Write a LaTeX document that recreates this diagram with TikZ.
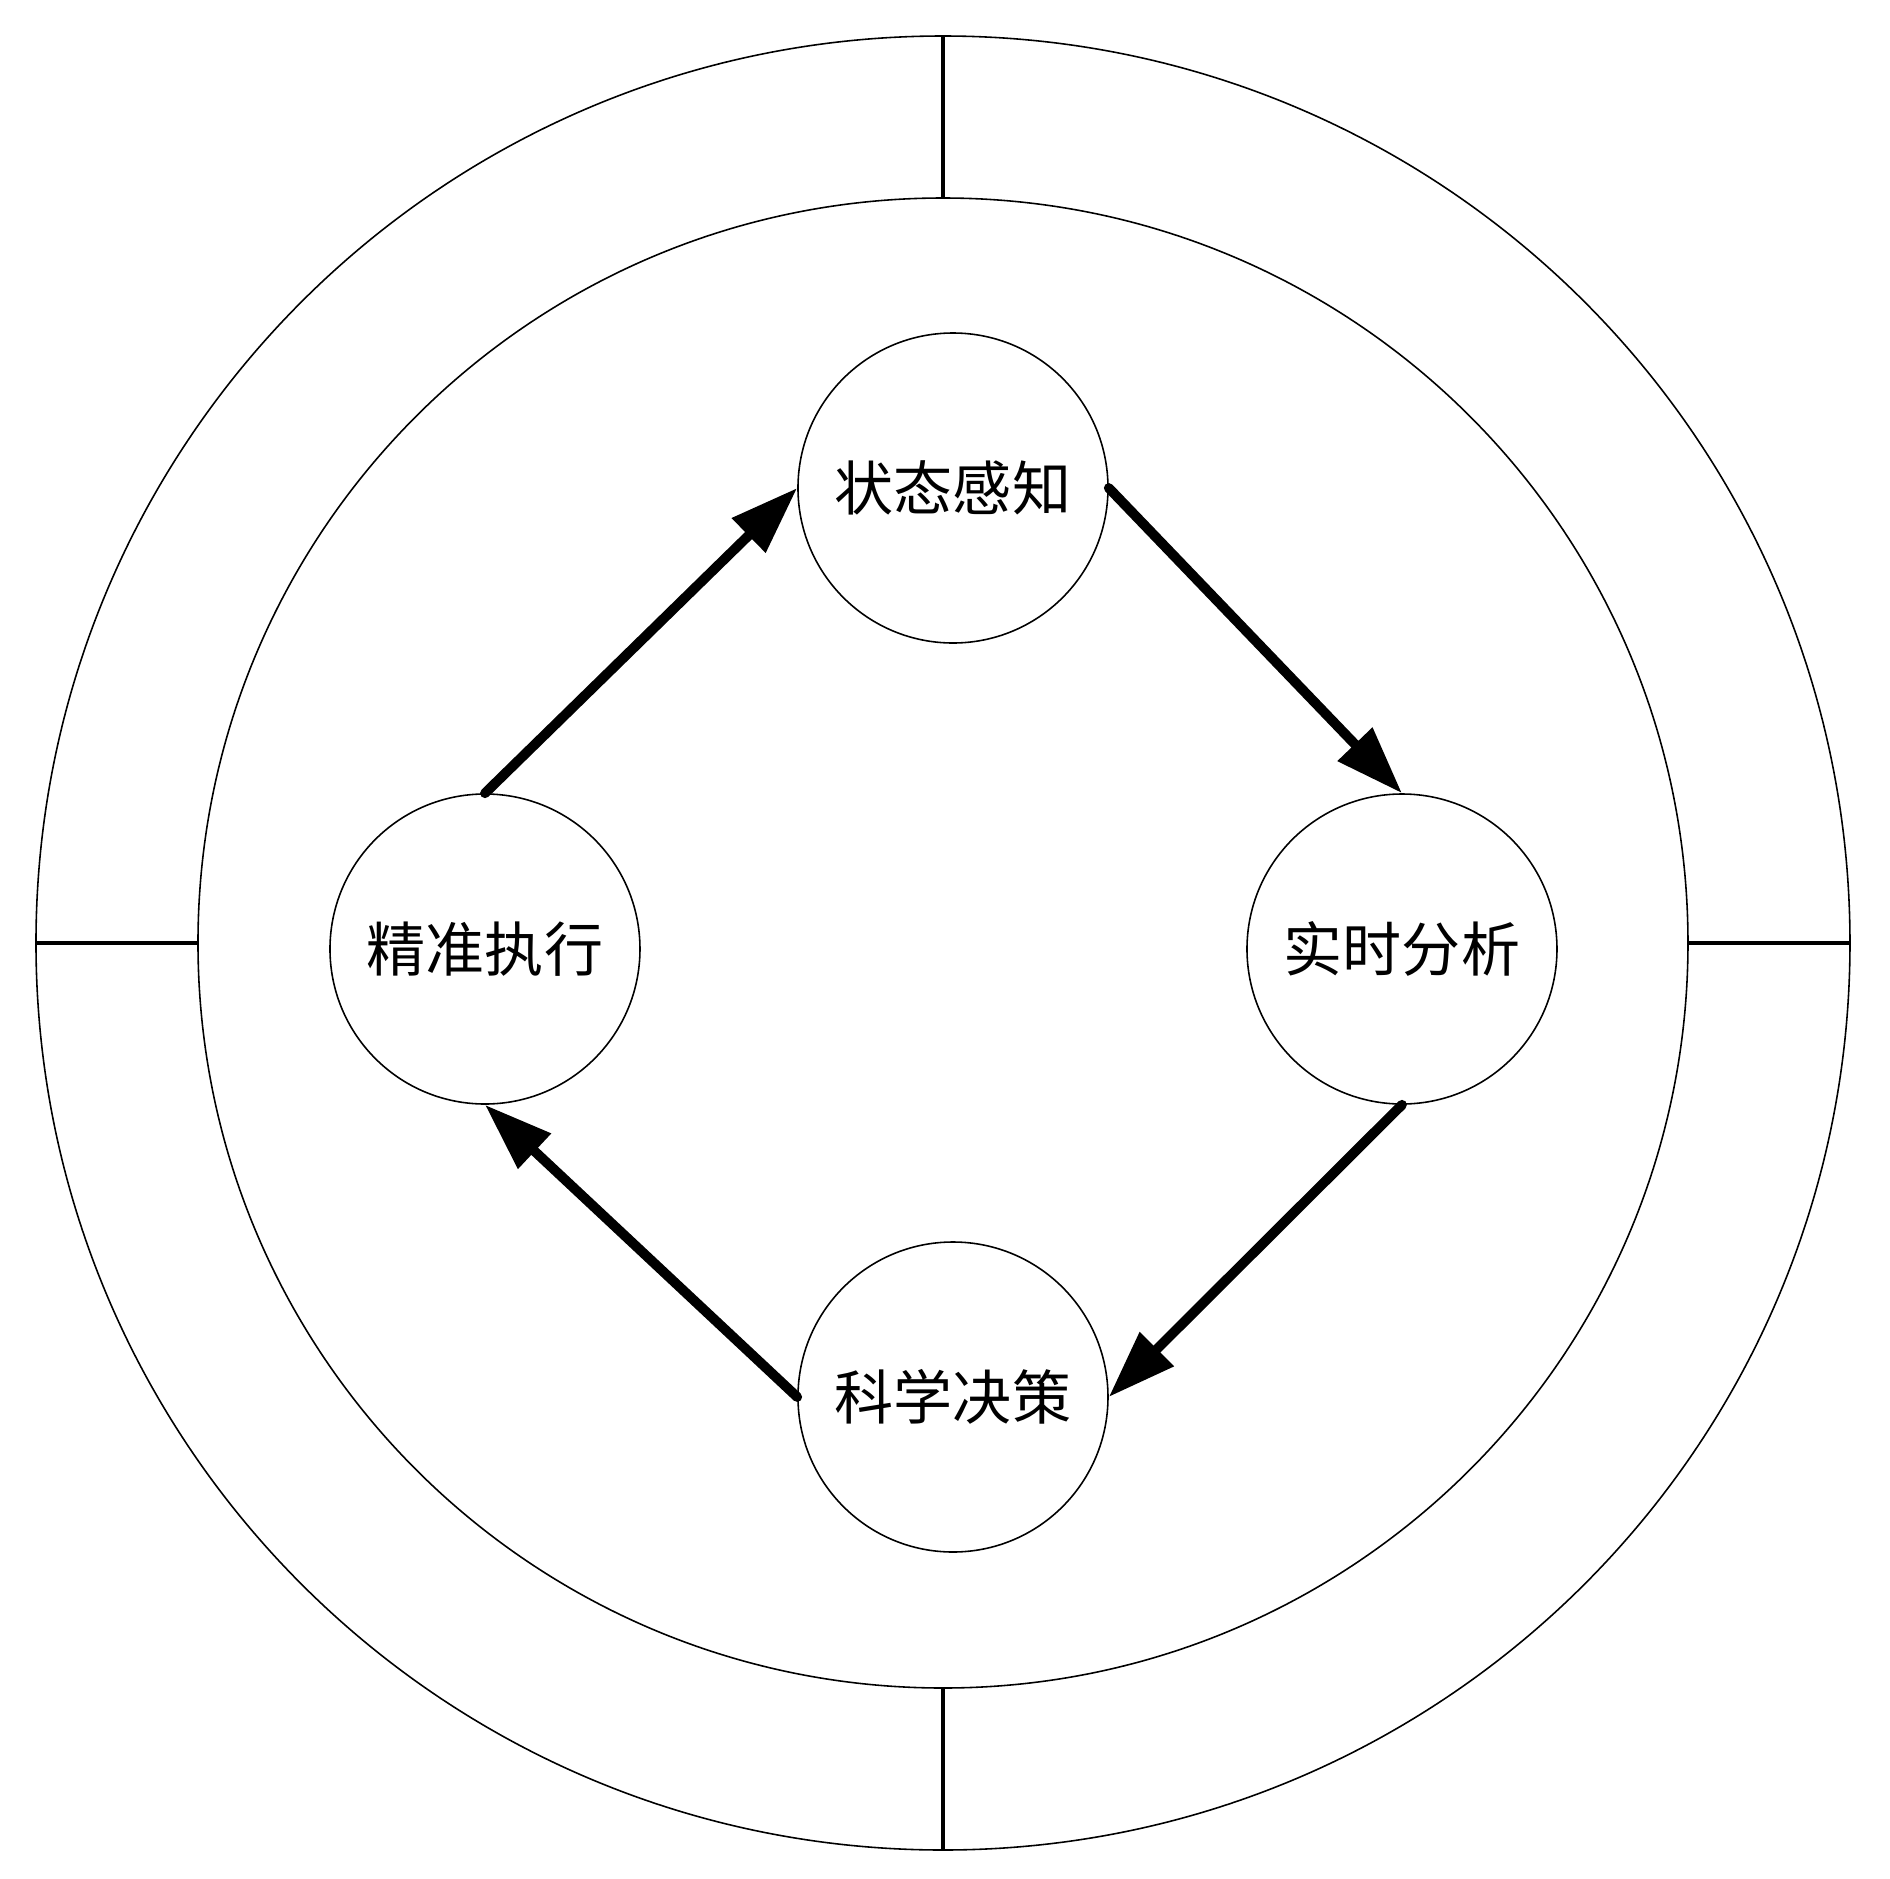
\documentclass[tikz,border=0pt]{standalone}
\usepackage{fontspec}
\newfontfamily\cjk{Noto Sans CJK SC}
\usetikzlibrary{arrows.meta}

\begin{document}
\begin{tikzpicture}[
        stage/.style = {circle, draw, line width = 0.45pt, minimum size = 3.1cm,
            inner sep = 0pt, font = \cjk\fontsize{16.8}{20}\selectfont},
        flow/.style = {line width = 2.8pt, line cap = round,
            -{Triangle[length = 0.68cm, width = 0.46cm]}}
    ]
        \useasboundingbox (-9.43, -9.35) rectangle (9.47, 9.43);

        % rings
        \draw[line width = 0.45pt] (0, 0) circle (9.07);
        \draw[line width = 0.45pt] (0, 0) circle (7.45);
        \draw[line width = 1.1pt] (0, 7.45) to (0, 9.07);
        \draw[line width = 1.1pt] (0, -7.45) to (0, -9.07);
        \draw[line width = 1.1pt] (-7.45, 0) to (-9.07, 0);
        \draw[line width = 1.1pt] (7.45, 0) to (9.07, 0);

        % stages
        \node[stage] (sense) at (0.10, 4.55) {状态感知};
        \node[stage] (analyse) at (4.59, -0.06) {实时分析};
        \node[stage] (decide) at (0.10, -4.54) {科学决策};
        \node[stage] (act) at (-4.58, -0.06) {精准执行};

        \draw[flow] (sense.east) to (analyse.north);
        \draw[flow] (analyse.south) to (decide.east);
        \draw[flow] (decide.west) to (act.south);
        \draw[flow] (act.north) to (sense.west);

    \end{tikzpicture}
\end{document}
